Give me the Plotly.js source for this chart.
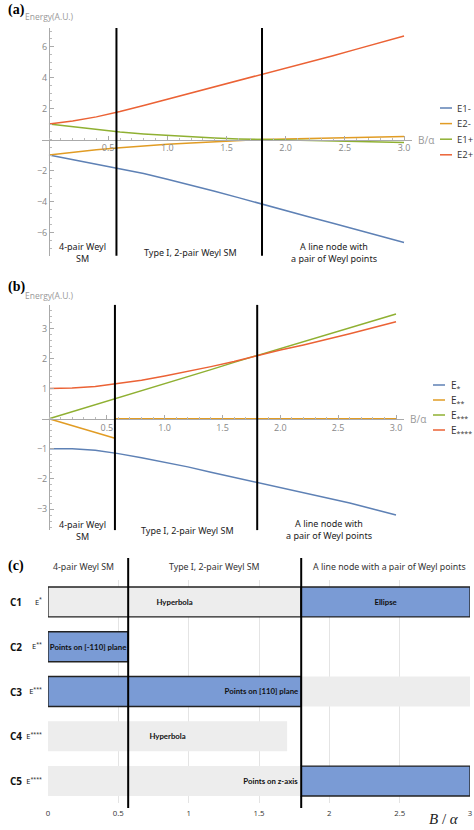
<!DOCTYPE html>
<html>
<head>
<meta charset="utf-8">
<script src="https://cdn.plot.ly/plotly-3.0.1.min.js"></script>
<style>html,body{margin:0;padding:0;background:#fff;}#chart{width:474px;height:830px;}</style>
</head>
<body>
<div id="chart"></div>
<script>
// ---------- DATA ----------
// phase boundaries (B/alpha)
const boundaries = [0.57, 1.8];
const regionLabels = ["4-pair Weyl<br>SM", "Type I, 2-pair Weyl SM", "A line node with<br>a pair of Weyl points"];

// panel (a)
const aX = [0,0.2,0.4,0.6,0.8,1.0,1.2,1.4,1.6,1.8,2.0,2.2,2.4,2.6,2.8,3.0];
const aE1m = [-1.0,-1.3,-1.57,-1.87,-2.2,-2.56,-2.94,-3.34,-3.75,-4.18,-4.6,-5.0,-5.4,-5.82,-6.24,-6.65];
const aE2m = [-1.0,-0.82,-0.66,-0.53,-0.41,-0.31,-0.22,-0.14,-0.07,0.0,0.03,0.06,0.1,0.13,0.17,0.2];
const aE1p = [1.0,0.82,0.64,0.48,0.36,0.26,0.17,0.1,0.04,0.0,-0.03,-0.06,-0.1,-0.13,-0.17,-0.2];
const aE2p = [1.0,1.2,1.46,1.8,2.2,2.6,2.98,3.37,3.76,4.17,4.58,4.99,5.41,5.83,6.25,6.68];
const aNames = ["E1-","E2-","E1+","E2+"];
const aTickVals = [-6,-4,-2,2,4,6];
const aTickText = ["\u22126","\u22124","\u22122","2","4","6"];

// panel (b)
const bX = [0,0.2,0.4,0.6,0.8,1.0,1.2,1.4,1.6,1.8,2.0,2.2,2.4,2.6,2.8,3.0];
const bE1 = [-1.0,-1.0,-1.05,-1.16,-1.3,-1.45,-1.6,-1.78,-1.95,-2.1,-2.27,-2.45,-2.63,-2.8,-3.0,-3.2];
const bE2x = [0,0.2,0.4,0.57,null,0.57,3.0];
const bE2 = [0,-0.22,-0.45,-0.65,null,0,0];
const bE3 = [0,0.23,0.46,0.69,0.93,1.15,1.4,1.63,1.87,2.1,2.33,2.55,2.78,3.02,3.25,3.48];
const bE4 = [1.0,1.02,1.07,1.17,1.28,1.42,1.57,1.73,1.9,2.1,2.28,2.45,2.63,2.82,3.02,3.22];
const bNames = ["E<sub>*</sub>","E<sub>**</sub>","E<sub>***</sub>","E<sub>****</sub>"];
const bTickVals = [-3,-2,-1,1,2,3];
const bTickText = ["\u22123","\u22122","\u22121","1","2","3"];

const xTickVals = [0.5,1.0,1.5,2.0,2.5,3.0];
const xTickText = ["0.5","1.0","1.5","2.0","2.5","3.0"];

// panel (c)
const rows = ["C1","C2","C3","C4","C5"];
const rowEnergy = ["E<sup>*</sup>","E<sup>**</sup>","E<sup>***</sup>","E<sup>****</sup>","E<sup>****</sup>"];
const segRow = ["C1","C1","C2","C3","C3","C4","C5","C5"];
const segStart = [0,1.8,0,0,1.8,0,0,1.8];
const segEnd = [1.8,3.0,0.57,1.8,3.0,1.7,1.8,3.0];
const segKind = ["gray","blue","blue","blue","gray","gray","gray","blue"];
const segLabel = ["Hyperbola","Ellipse","Points on [-110] plane","Points on [110] plane","","Hyperbola","Points on z-axis",""];
const segOutline = [true,true,true,true,false,false,false,true];
const segAlign = ["middle","middle","middle","end","middle","middle","end","middle"];
const cTickVals = [0,0.5,1,1.5,2,2.5,3];
const cTickText = ["0","0.5","1","1.5","2","2.5","3"];
const cTopLabels = ["4-pair Weyl SM","Type I, 2-pair Weyl SM","A line node with a pair of Weyl points"];

// ---------- STYLE / LAYOUT HELPERS ----------
const W = 474, H = 830;
const px = v => v / W;
const py = v => 1 - v / H;
const colors = ["#5E81B5","#E19C24","#8FB032","#EB6235"];
const axGray = "#aaaaaa", tickGray = "#888888";
const tickFont = {family:"Open Sans, sans-serif", size:9, color:tickGray};

const traces = [];
const aSeries = [aE1m, aE2m, aE1p, aE2p];
aSeries.forEach((s,i) => traces.push({x:aX, y:s, type:"scatter", mode:"lines", name:aNames[i],
  line:{color:colors[i], width:1.5}, xaxis:"x", yaxis:"y", showlegend:false, hoverinfo:"skip"}));
const bSeries = [[bX,bE1],[bE2x,bE2],[bX,bE3],[bX,bE4]];
bSeries.forEach((s,i) => traces.push({x:s[0], y:s[1], type:"scatter", mode:"lines", name:bNames[i],
  line:{color:colors[i], width:1.5}, xaxis:"x2", yaxis:"y2", showlegend:false, connectgaps:false, hoverinfo:"skip"}));

// bars grouped by kind + text alignment
const groups = {};
segRow.forEach((r,i) => {
  const key = segKind[i] + "|" + segAlign[i];
  (groups[key] = groups[key] || []).push(i);
});
Object.keys(groups).forEach(key => {
  const idx = groups[key];
  const kind = key.split("|")[0], align = key.split("|")[1];
  traces.push({
    type:"bar", orientation:"h", xaxis:"x3", yaxis:"y3", showlegend:false, hoverinfo:"skip",
    y: idx.map(i => segRow[i]),
    base: idx.map(i => segStart[i]),
    x: idx.map(i => segEnd[i] - segStart[i]),
    text: idx.map(i => segLabel[i] ? "<b>" + segLabel[i] + "</b>" : ""),
    textposition:"inside", insidetextanchor: align, constraintext:"none",
    textfont:{family:"Lato, sans-serif", size:7.8, color:"#111"},
    width:0.67,
    marker:{color: kind === "blue" ? "#7A9BD5" : "#EDEDED",
      line:{color: idx.map(i => segOutline[i] ? "#222" : "rgba(0,0,0,0)"), width: idx.map(i => segOutline[i] ? 1.3 : 0)}}
  });
});

// geometry (pixels)
const A = {xl:41.9, xr:412.3, x0:49, yt:27.9, yb:255.75, y0:139.5};
const B = {xl:42.06, xr:404.1, x0:49, yt:304.9, yb:530.1, y0:418.7};
const C = {xl:48, xr:470, yt:579.6, yb:803.4};

function mathAxisX(g){
  return {domain:[px(g.xl),px(g.xr)], range:[-0.06,3.07], anchor:"free", position:py(g.y0),
    showline:true, linecolor:axGray, linewidth:1, zeroline:false, showgrid:false,
    ticks:"inside", ticklen:4, tickcolor:axGray, tickvals:xTickVals, ticktext:xTickText, tickfont:tickFont,
    minor:{ticks:"inside", ticklen:2, dtick:0.1, tick0:0, tickcolor:"#bbbbbb"}, fixedrange:true};
}
function mathAxisY(g, range, tv, tt, minorD){
  return {domain:[py(g.yb),py(g.yt)], range:range, anchor:"free", position:px(g.x0),
    showline:true, linecolor:axGray, linewidth:1, zeroline:false, showgrid:false,
    ticks:"inside", ticklen:4, tickcolor:axGray, tickvals:tv, ticktext:tt, tickfont:tickFont,
    minor:{ticks:"inside", ticklen:2, dtick:minorD, tick0:0, tickcolor:"#bbbbbb"}, fixedrange:true};
}

const shapes = [];
const annotations = [];
boundaries.forEach(b => {
  shapes.push({type:"line", xref:"x", yref:"y domain", x0:b, x1:b, y0:0, y1:1, line:{color:"#000", width:2}});
  shapes.push({type:"line", xref:"x2", yref:"y2 domain", x0:b, x1:b, y0:0, y1:1, line:{color:"#000", width:2}});
  shapes.push({type:"line", xref:"x3", yref:"paper", x0:b, x1:b, y0:py(808), y1:py(558), line:{color:"#000", width:2}});
});

// manual legends
aNames.forEach((n,i) => {
  const yy = 108 + 15.6*i;
  shapes.push({type:"line", xref:"paper", yref:"paper", x0:px(440), x1:px(452), y0:py(yy), y1:py(yy), line:{color:colors[i], width:1.5}});
  annotations.push({xref:"paper", yref:"paper", x:px(455), y:py(yy), xanchor:"left", yanchor:"middle", showarrow:false,
    text:n, font:{family:"Open Sans, sans-serif", size:9.5, color:"#333"}});
});
bNames.forEach((n,i) => {
  const yy = 385 + 15*i;
  shapes.push({type:"line", xref:"paper", yref:"paper", x0:px(433), x1:px(445), y0:py(yy), y1:py(yy), line:{color:colors[i], width:1.5}});
  annotations.push({xref:"paper", yref:"paper", x:px(449), y:py(yy), xanchor:"left", yanchor:"middle", showarrow:false,
    text:n, font:{family:"Open Sans, sans-serif", size:10, color:"#333"}});
});

// panel letters and axis labels
const letterFont = {family:"Liberation Serif, serif", size:14, color:"#000"};
[["(a)",10],["(b)",287],["(c)",566]].forEach(p => annotations.push({xref:"paper", yref:"paper", x:px(6), y:py(p[1]),
  xanchor:"left", yanchor:"middle", showarrow:false, text:"<b>"+p[0]+"</b>", font:letterFont}));
[16,295].forEach(yy => annotations.push({xref:"paper", yref:"paper", x:px(23), y:py(yy), xanchor:"left", yanchor:"middle",
  showarrow:false, text:"Energy(A.U.)", font:{family:"Open Sans, sans-serif", size:8.5, color:"#999"}}));
[[416,139.5],[408,418.7]].forEach(p => annotations.push({xref:"paper", yref:"paper", x:px(p[0]), y:py(p[1]), xanchor:"left", yanchor:"middle",
  showarrow:false, text:"B/\u03b1", font:{family:"Open Sans, sans-serif", size:10, color:"#999"}}));

// region labels inside (a) and (b)
const regionFont = {family:"Noto Sans, sans-serif", size:9, color:"#222"};
[[82,252],[190,252],[334,252]].forEach((p,i) => annotations.push({xref:"paper", yref:"paper", x:px(p[0]), y:py(p[1]),
  xanchor:"center", yanchor:"middle", showarrow:false, text:regionLabels[i], font:regionFont}));
[[82,530],[187,530],[329,529]].forEach((p,i) => annotations.push({xref:"paper", yref:"paper", x:px(p[0]), y:py(p[1]),
  xanchor:"center", yanchor:"middle", showarrow:false, text:regionLabels[i], font:regionFont}));

// top labels of (c)
[83,214,389].forEach((xx,i) => annotations.push({xref:"paper", yref:"paper", x:px(xx), y:py(567), xanchor:"center", yanchor:"middle",
  showarrow:false, text:cTopLabels[i], font:{family:"Noto Sans, sans-serif", size:8.8, color:"#333"}}));
// row names
rows.forEach(r => annotations.push({xref:"paper", yref:"y3", x:px(8), y:r, xanchor:"left", yanchor:"middle", showarrow:false,
  text:"<b>"+r+"</b>", font:{family:"Open Sans, sans-serif", size:10, color:"#111"}}));
// B/alpha label
annotations.push({xref:"paper", yref:"paper", x:px(444), y:py(819), xanchor:"center", yanchor:"middle", showarrow:false,
  text:"<i>B</i> / <i>\u03b1</i>", font:{family:"Liberation Serif, serif", size:15, color:"#222"}});

const layout = {
  width:W, height:H, margin:{l:0,r:0,t:0,b:0}, paper_bgcolor:"#fff", plot_bgcolor:"rgba(0,0,0,0)",
  showlegend:false, barmode:"overlay",
  xaxis: mathAxisX(A),
  yaxis: mathAxisY(A, [-7.5,7.2], aTickVals, aTickText, 0.5),
  xaxis2: mathAxisX(B),
  yaxis2: mathAxisY(B, [-3.7,3.78], bTickVals, bTickText, 0.2),
  xaxis3: {domain:[px(C.xl),px(C.xr)], range:[0,3], anchor:"y3", showline:false, zeroline:false,
    showgrid:true, gridcolor:"#e4e4e4", gridwidth:1, tickvals:cTickVals, ticktext:cTickText, ticks:"",
    ticklabelstandoff:4, tickfont:{family:"Open Sans, sans-serif", size:7.8, color:"#333"}, fixedrange:true},
  yaxis3: {domain:[py(C.yb),py(C.yt)], type:"category", categoryarray:rows, range:[4.5,-0.5], anchor:"x3",
    showgrid:false, zeroline:false, showline:false, ticks:"", tickvals:rows, ticktext:rowEnergy, ticklabelstandoff:5,
    tickfont:{family:"Open Sans, sans-serif", size:7.5, color:"#111"}, fixedrange:true},
  shapes:shapes, annotations:annotations
};

Plotly.newPlot("chart", traces, layout, {staticPlot:true, displayModeBar:false});
</script>
</body>
</html>
